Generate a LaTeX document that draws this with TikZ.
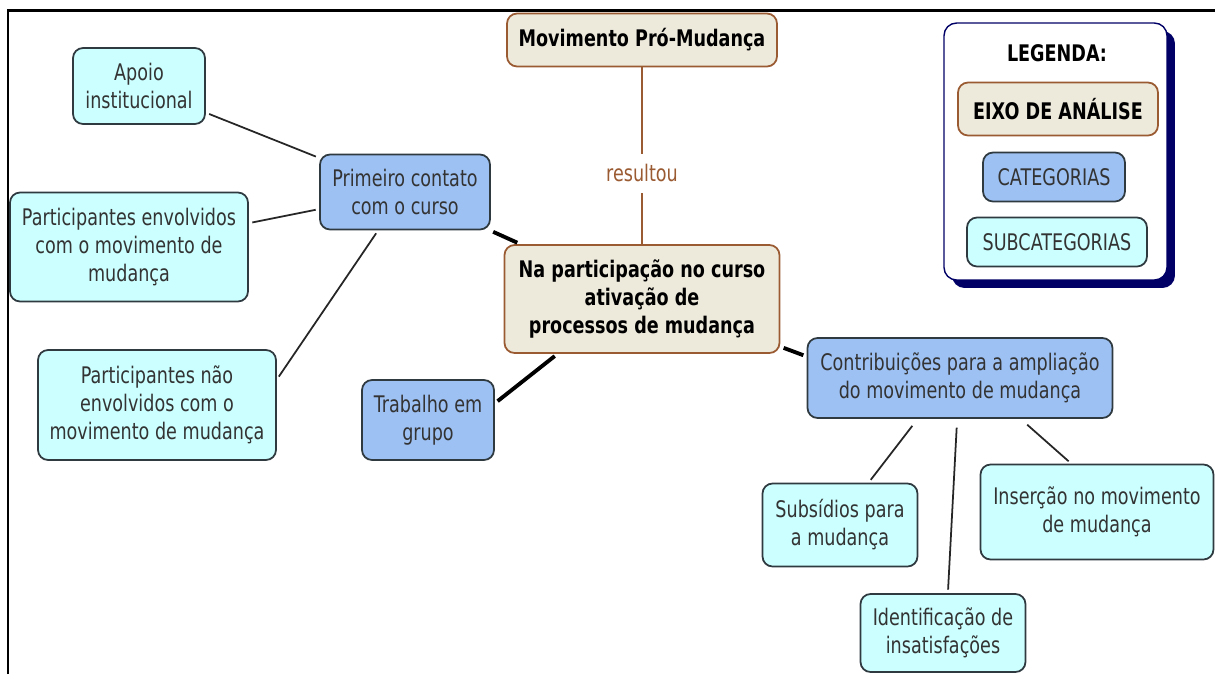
\documentclass[tikz,border=0pt]{standalone}
\usepackage{fontspec}
\setmainfont{DejaVu Sans}[FakeStretch=0.77]
\usepackage{tikz}
\usetikzlibrary{positioning,shadows}
\usepackage{xcolor}

\definecolor{bege}{HTML}{EDEADC}
\definecolor{marrom}{HTML}{9A5A32}
\definecolor{azulcat}{HTML}{9DC1F3}
\definecolor{cianosub}{HTML}{CCFFFF}
\definecolor{borda}{HTML}{2F3A40}
\definecolor{texto}{HTML}{333333}
\definecolor{marinho}{HTML}{000066}

\tikzset{
  eixo/.style={draw=marrom, fill=bege, line width=1pt, rounded corners=0.2cm,
    align=center, font=\fontsize{13}{16}\selectfont\bfseries},
  categoria/.style={draw=borda, fill=azulcat, line width=1pt, rounded corners=0.2cm,
    align=center, text=texto, font=\fontsize{13}{16}\selectfont},
  subcategoria/.style={draw=borda, fill=cianosub, line width=1pt, rounded corners=0.2cm,
    align=center, text=texto, font=\fontsize{13}{16}\selectfont},
  ligacao/.style={draw=black!85, line width=1pt, shorten <=2pt, shorten >=2pt},
  ligforte/.style={draw=black, line width=2.2pt, shorten <=2pt, shorten >=2pt}
}

\begin{document}
\begin{tikzpicture}[x=0.02cm, y=-0.02cm]
\useasboundingbox (0,0) rectangle (1215,674);
\draw[line width=1.7pt] (8,674) -- (8,10) -- (1215,10);

% eixo de analise
\node[eixo, minimum width=5.4cm, minimum height=1.06cm] (promud) at (642,40) {Movimento Pró-Mudança};
\node[eixo, minimum width=5.5cm, minimum height=2.16cm] (central) at (642,299)
  {Na participação no curso\\ativação de\\processos de mudança};

% categorias
\node[categoria, minimum width=3.4cm, minimum height=1.5cm] (primeiro) at (405,192) {Primeiro contato\\com o curso};
\node[categoria, minimum width=2.64cm, minimum height=1.6cm] (trabalho) at (428,420) {Trabalho em\\grupo};
\node[categoria, minimum width=6.1cm, minimum height=1.6cm] (contrib) at (960,378)
  {Contribuições para a ampliação\\do movimento de mudança};

% subcategorias
\node[subcategoria, minimum width=2.64cm, minimum height=1.52cm] (apoio) at (139,86) {Apoio\\institucional};
\node[subcategoria, minimum width=4.76cm, minimum height=2.18cm] (envolv) at (129,247)
  {Participantes envolvidos\\com o movimento de\\mudança};
\node[subcategoria, minimum width=4.76cm, minimum height=2.2cm] (naoenv) at (157,405)
  {Participantes não\\envolvidos com o\\movimento de mudança};
\node[subcategoria, minimum width=3.1cm, minimum height=1.66cm] (subsid) at (840,525) {Subsídios para\\a mudança};
\node[subcategoria, minimum width=4.66cm, minimum height=1.9cm] (insercao) at (1097,512) {Inserção no movimento\\de mudança};
\node[subcategoria, minimum width=3.3cm, minimum height=1.56cm] (identif) at (943,633) {Identificação de\\insatisfações};

% ligacoes
\draw[marrom, line width=1pt] (promud) -- node[pos=0.6, fill=white, text=marrom, inner sep=6pt,
  font=\fontsize{13}{16}\selectfont] (rotulo) {resultou} (central);
\draw[ligacao] (apoio) -- (primeiro);
\draw[ligacao] (envolv) -- (primeiro);
\draw[ligacao] (primeiro.-125) -- (naoenv.12);
\draw[ligforte] (primeiro) -- (central);
\draw[ligforte] (trabalho.14) -- (central.-147);
\draw[ligforte] (central.-19) -- (contrib.172);
\draw[ligacao, shorten <=5pt] (contrib.-136) -- (subsid.56);
\draw[ligacao, shorten <=5pt] (contrib.-94) -- (identif.83);
\draw[ligacao, shorten <=5pt] (contrib.-34) -- (insercao.118);

% legenda
\node[draw=marinho, fill=white, line width=0.8pt, rounded corners=0.25cm,
  minimum width=4.46cm, minimum height=5.14cm,
  drop shadow={shadow xshift=0.16cm, shadow yshift=-0.16cm, fill=marinho, opacity=1}] (legenda) at (1055.5,151.5) {};
\node[font=\fontsize{13}{16}\selectfont\bfseries] (titulo) at (1057,53) {LEGENDA:};
\node[eixo, minimum width=4.0cm, minimum height=1.06cm] (legeixo) at (1058,109) {EIXO DE ANÁLISE};
\node[categoria, minimum width=2.84cm, minimum height=0.98cm] (legcat) at (1054,177) {CATEGORIAS};
\node[subcategoria, minimum width=3.6cm, minimum height=0.98cm] (legsub) at (1057,242) {SUBCATEGORIAS};
\end{tikzpicture}
\end{document}
